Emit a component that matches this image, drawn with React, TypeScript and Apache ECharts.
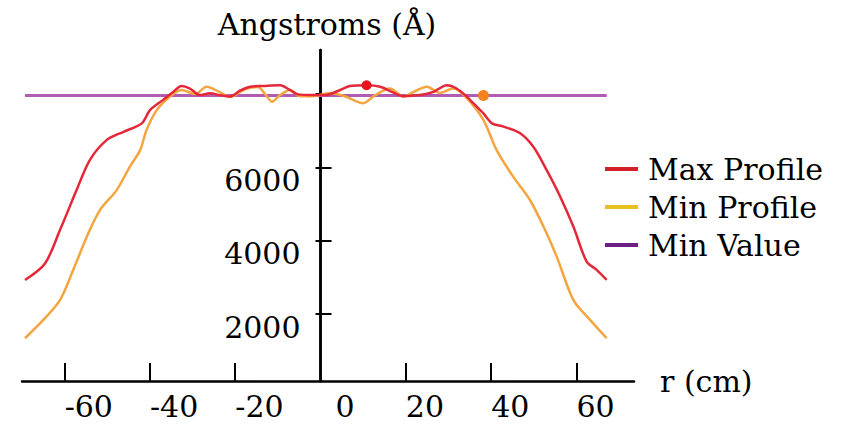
import React, { useEffect, useRef } from "react";
import * as echarts from "echarts";

// Radius (cm) and thickness (Å) samples for each profile
const maxProfileR = [
  -69.3, -64.6, -61.1, -57.2, -54.1, -50.1, -46.2, -41.9, -40.0, -36.9, -34.5, -32.6,
  -30.6, -28.3, -25.9, -23.6, -21.2, -18.9, -16.5, -13.4, -9.5, -7.2, -5.3, -1.8,
  1.1, 4.6, 6.9, 10.8, 14.0, 16.7, 19.4, 23.3, 26.5, 29.6, 31.9, 34.3,
  35.8, 38.2, 40.2, 42.9, 46.8, 49.9, 53.0, 56.2, 59.3, 62.4, 64.8, 67.1,
];
const maxProfileA = [
  2930, 3380, 4290, 5380, 6200, 6750, 6970, 7200, 7560, 7840, 8060, 8220,
  8150, 7970, 8020, 7970, 7930, 8090, 8200, 8220, 8240, 8110, 7990, 7970,
  7970, 8110, 8220, 8240, 8200, 8060, 7940, 7970, 8060, 8240, 8150, 7930,
  7750, 7470, 7200, 7110, 6930, 6560, 5930, 5200, 4380, 3430, 3200, 2930,
];

const minProfileR = [
  -69.3, -65.0, -61.1, -58.0, -54.8, -51.7, -47.8, -44.7, -42.3, -40.8, -38.4, -35.3,
  -32.6, -29.4, -26.7, -23.6, -21.2, -17.7, -14.7, -13.0, -11.4, -9.5, -7.2, -4.8,
  -1.8, 2.2, 5.7, 10.0, 12.8, 16.3, 19.4, 22.2, 24.9, 28.0, 31.1, 34.3,
  38.2, 41.3, 45.2, 49.1, 52.3, 55.4, 59.3, 63.2, 67.1,
];
const minProfileA = [
  1340, 1840, 2380, 3200, 4110, 4840, 5380, 6020, 6470, 7020, 7560, 7930,
  8110, 8000, 8200, 8050, 7920, 8130, 8190, 8000, 7790, 7970, 8110, 7940,
  7940, 8030, 7940, 7750, 7970, 8150, 7930, 8080, 8200, 8030, 8150, 7890,
  7290, 6470, 5740, 5110, 4380, 3560, 2380, 1840, 1340,
];

const minValueR = [-69.3, 67.1];
const minValueA = [7960, 7960];

// Highlighted points on each profile
const maxPoint = [10.8, 8240];
const minPoint = [38.2, 7960];

const xTickValues = [-60, -40, -20, 20, 40, 60];
const xLabelValues = [-60, -40, -20, 0, 20, 40, 60];
const yTickValues = [2000, 4000, 6000, 8000];
const yLabelValues = [2000, 4000, 6000];

const seriesNames = ["Max Profile", "Min Profile", "Min Value"];

const FONT = "'DejaVu Serif', 'Liberation Serif', serif";

// Plot geometry: the radial axis spans X_MIN..X_MAX across the grid width
const GRID_LEFT = 22;
const GRID_RIGHT = 212;
const CHART_W = 846;
const X_MIN = -70;
const X_MAX = 73.5;
// shift that puts the vertical axis at r = 0
const Y_AXIS_SHIFT =
  ((0 - X_MIN) / (X_MAX - X_MIN)) * (CHART_W - GRID_LEFT - GRID_RIGHT);

const zip = (xs: number[], ys: number[]) => xs.map((x, i) => [x, ys[i]]);

export default function App() {
  const ref = useRef<HTMLDivElement>(null);

  useEffect(() => {
    if (!ref.current) return;
    const chart = echarts.init(ref.current, undefined, { renderer: "svg" });

    const yRange = {
      type: "value" as const,
      min: 175,
      max: 9200,
      position: "left" as const,
      offset: -Y_AXIS_SHIFT,
    };

    chart.setOption({
      animation: false,
      backgroundColor: "#ffffff",
      textStyle: { fontFamily: FONT, color: "#000" },
      grid: {
        left: GRID_LEFT,
        right: GRID_RIGHT,
        top: 50,
        bottom: 50,
        containLabel: false,
        outerBoundsMode: "none",
      },
      legend: {
        orient: "vertical",
        left: 600,
        top: 149,
        icon: "rect",
        itemWidth: 33,
        itemHeight: 4,
        itemGap: 8,
        selectedMode: false,
        textStyle: { fontFamily: FONT, fontSize: 30, color: "#000", padding: [0, 0, 0, 5] },
        data: [
          { name: seriesNames[0], itemStyle: { color: "#d41f2b" } },
          { name: seriesNames[1], itemStyle: { color: "#e8c21c" } },
          { name: seriesNames[2], itemStyle: { color: "#6e1e84" } },
        ],
      },
      xAxis: {
        type: "value",
        min: X_MIN,
        max: X_MAX,
        name: "r (cm)",
        nameLocation: "end",
        nameGap: 26,
        nameTextStyle: { fontFamily: FONT, fontSize: 30, color: "#000", padding: [18, 0, 0, 0] },
        axisLine: { onZero: false, lineStyle: { color: "#000", width: 2.5 } },
        axisTick: {
          inside: true,
          length: 18,
          customValues: xTickValues,
          lineStyle: { color: "#000", width: 2 },
        },
        axisLabel: {
          customValues: xLabelValues,
          align: "left",
          margin: 10,
          fontFamily: FONT,
          fontSize: 30,
          color: "#000",
          formatter: (v: number) => (v === 0 ? "{z|0}" : String(v)),
          rich: { z: { padding: [0, 0, 0, 15], fontFamily: FONT, fontSize: 30, color: "#000" } },
        },
        splitLine: { show: false },
      },
      yAxis: [
        {
          ...yRange,
          name: "Angstroms (Å)",
          nameLocation: "end",
          nameGap: 11,
          nameTextStyle: { fontFamily: FONT, fontSize: 30, color: "#000", padding: [0, 0, 0, 13] },
          axisLine: { onZero: false, lineStyle: { color: "#000", width: 2.5 } },
          axisTick: { length: 5, customValues: yTickValues, lineStyle: { color: "#000", width: 2 } },
          axisLabel: {
            customValues: yLabelValues,
            margin: 20,
            verticalAlign: "top",
            lineHeight: 26,
            fontFamily: FONT,
            fontSize: 30,
            color: "#000",
            formatter: (v: number) => String(v),
          },
          splitLine: { show: false },
        },
        {
          ...yRange,
          axisLine: { onZero: false, lineStyle: { color: "#000", width: 2.5 } },
          axisTick: {
            inside: true,
            length: 11,
            customValues: yTickValues,
            lineStyle: { color: "#000", width: 2 },
          },
          axisLabel: { show: false },
          splitLine: { show: false },
        },
      ],
      series: [
        {
          name: seriesNames[2],
          type: "line",
          data: zip(minValueR, minValueA),
          showSymbol: false,
          lineStyle: { color: "#b05cb4", width: 3 },
          itemStyle: { color: "#b05cb4" },
          z: 2,
        },
        {
          name: seriesNames[1],
          type: "line",
          data: zip(minProfileR, minProfileA),
          smooth: 0.3,
          showSymbol: false,
          lineStyle: { color: "#f5a540", width: 2.5 },
          itemStyle: { color: "#f5a540" },
          markPoint: {
            symbol: "circle",
            symbolSize: 11,
            label: { show: false },
            itemStyle: { color: "#f5821e" },
            data: [{ coord: minPoint }],
          },
          z: 3,
        },
        {
          name: seriesNames[0],
          type: "line",
          data: zip(maxProfileR, maxProfileA),
          smooth: 0.3,
          showSymbol: false,
          lineStyle: { color: "#e4283a", width: 2.5 },
          itemStyle: { color: "#e4283a" },
          markPoint: {
            symbol: "circle",
            symbolSize: 10,
            label: { show: false },
            itemStyle: { color: "#e8141e" },
            data: [{ coord: maxPoint }],
          },
          z: 4,
        },
      ],
    });

    return () => chart.dispose();
  }, []);

  return (
    <div
      ref={ref}
      style={{ position: "fixed", left: 0, top: 0, width: 846, height: 431, background: "#fff" }}
    />
  );
}
